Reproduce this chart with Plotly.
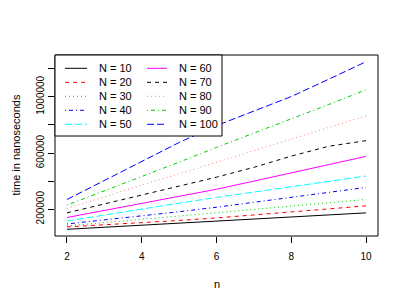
import plotly.graph_objects as go

n = [2, 3, 4, 5, 6, 7, 8, 9, 10]
labels = ["N = 10", "N = 20", "N = 30", "N = 40", "N = 50",
          "N = 60", "N = 70", "N = 80", "N = 90", "N = 100"]
t10 = [57000, 72000, 86000, 101000, 115000, 130000, 144000, 159000, 174000]
t20 = [74000, 88000, 103000, 120000, 138000, 158000, 180000, 202000, 224000]
t30 = [81000, 104000, 127000, 151000, 175000, 198000, 222000, 245000, 269000]
t40 = [95000, 123000, 152000, 182000, 214000, 248000, 284000, 320000, 355000]
t50 = [116000, 160000, 202000, 243000, 284000, 322000, 361000, 399000, 436000]
t60 = [141000, 190000, 240000, 290000, 342000, 400000, 458000, 517000, 576000]
t70 = [174000, 237000, 301000, 364000, 428000, 498000, 578000, 648000, 688000]
t80 = [205000, 290000, 372000, 452000, 535000, 617000, 700000, 782000, 864000]
t90 = [229000, 330000, 432000, 535000, 640000, 740000, 842000, 945000, 1050000]
t100 = [269000, 405000, 540000, 675000, 795000, 900000, 1002000, 1125000, 1250000]
series = [t10, t20, t30, t40, t50, t60, t70, t80, t90, t100]

x_ticks = [2, 4, 6, 8, 10]
y_ticks = [200000, 400000, 600000, 800000, 1000000, 1200000]
y_ticktext = ["200000", "", "600000", "", "1000000", ""]

colors = ["#000000", "#FF0000", "#00CD00", "#0000FF", "#00FFFF",
          "#FF00FF", "#000000", "#FF7F7F", "#00CD00", "#0000FF"]
dashes = ["solid", "4px,4px", "1px,3px", "1px,3px,4px,3px", "7px,3px",
          "solid", "4px,4px", "1px,3px", "1px,3px,4px,3px", "7px,3px"]

FONT = "Liberation Sans, Arial, Helvetica, sans-serif"
OFF = 8  # default page body margin
W, H = 407 - 2 * OFF, 305 - 2 * OFF
# plot box in page px
L, R, T, B = 55, 378, 55, 236
pw, ph = R - L, B - T


def px2x(p):
    return (p - L) / pw


def px2y(p):
    return (B - p) / ph


fig = go.Figure()
for lab, ys, c, d in zip(labels, series, colors, dashes):
    fig.add_trace(go.Scatter(x=n, y=ys, mode="lines", name=lab,
                             line=dict(color=c, dash=d, width=1),
                             showlegend=False, hoverinfo="skip"))

allv = [v for s in series for v in s]
ymin, ymax = min(allv), max(allv)
pad = 0.04 * (ymax - ymin)
xpad = 0.04 * (max(n) - min(n))

shapes = []
annotations = []
shapes.append(dict(type="rect", xref="paper", yref="paper", x0=0, x1=1, y0=0, y1=1,
                   line=dict(color="black", width=1), layer="above"))
shapes.append(dict(type="rect", xref="paper", yref="paper",
                   x0=0, x1=px2x(222), y0=px2y(136), y1=1,
                   line=dict(color="black", width=1), fillcolor="white", layer="above"))
col_line = [(65, 87, 97), (147, 167, 177)]
for i, (lab, c, d) in enumerate(zip(labels, colors, dashes)):
    col, row = divmod(i, 5)
    yy = 68.3 + 14 * row
    lx0, lx1, tx = col_line[col]
    shapes.append(dict(type="line", xref="paper", yref="paper",
                       x0=px2x(lx0), x1=px2x(lx1), y0=px2y(yy), y1=px2y(yy),
                       line=dict(color=c, dash=d, width=1), layer="above"))
    annotations.append(dict(xref="paper", yref="paper", x=px2x(tx), y=px2y(yy),
                            text=lab, showarrow=False, xanchor="left", yanchor="middle",
                            font=dict(family=FONT, size=11, color="black")))

annotations.append(dict(xref="paper", yref="paper", x=px2x(216.5), y=px2y(284),
                        text="n", showarrow=False, xanchor="center", yanchor="middle",
                        font=dict(family=FONT, size=11, color="black")))
annotations.append(dict(xref="paper", yref="paper", x=px2x(15), y=0.5,
                        text="time in nanoseconds", showarrow=False, textangle=-90,
                        xanchor="center", yanchor="middle",
                        font=dict(family=FONT, size=11, color="black")))

fig.update_layout(
    width=W, height=H,
    margin=dict(l=L - OFF, r=W - (R - OFF), t=T - OFF, b=H - (B - OFF), pad=0),
    paper_bgcolor="white", plot_bgcolor="white",
    shapes=shapes, annotations=annotations,
    font=dict(family=FONT, size=10, color="black"),
    xaxis=dict(range=[min(n) - xpad, max(n) + xpad], tickvals=x_ticks,
               ticks="outside", ticklen=6, tickwidth=1, tickcolor="black",
               ticklabelstandoff=5,
               showgrid=False, zeroline=False, showline=False,
               tickfont=dict(family=FONT, size=10, color="black")),
    yaxis=dict(range=[ymin - pad, ymax + pad], tickvals=y_ticks, ticktext=y_ticktext,
               ticks="outside", ticklen=6, tickwidth=1, tickcolor="black",
               tickangle=-90, showgrid=False, zeroline=False, showline=False,
               tickfont=dict(family=FONT, size=10, color="black")),
)

fig.write_html("out.html")
